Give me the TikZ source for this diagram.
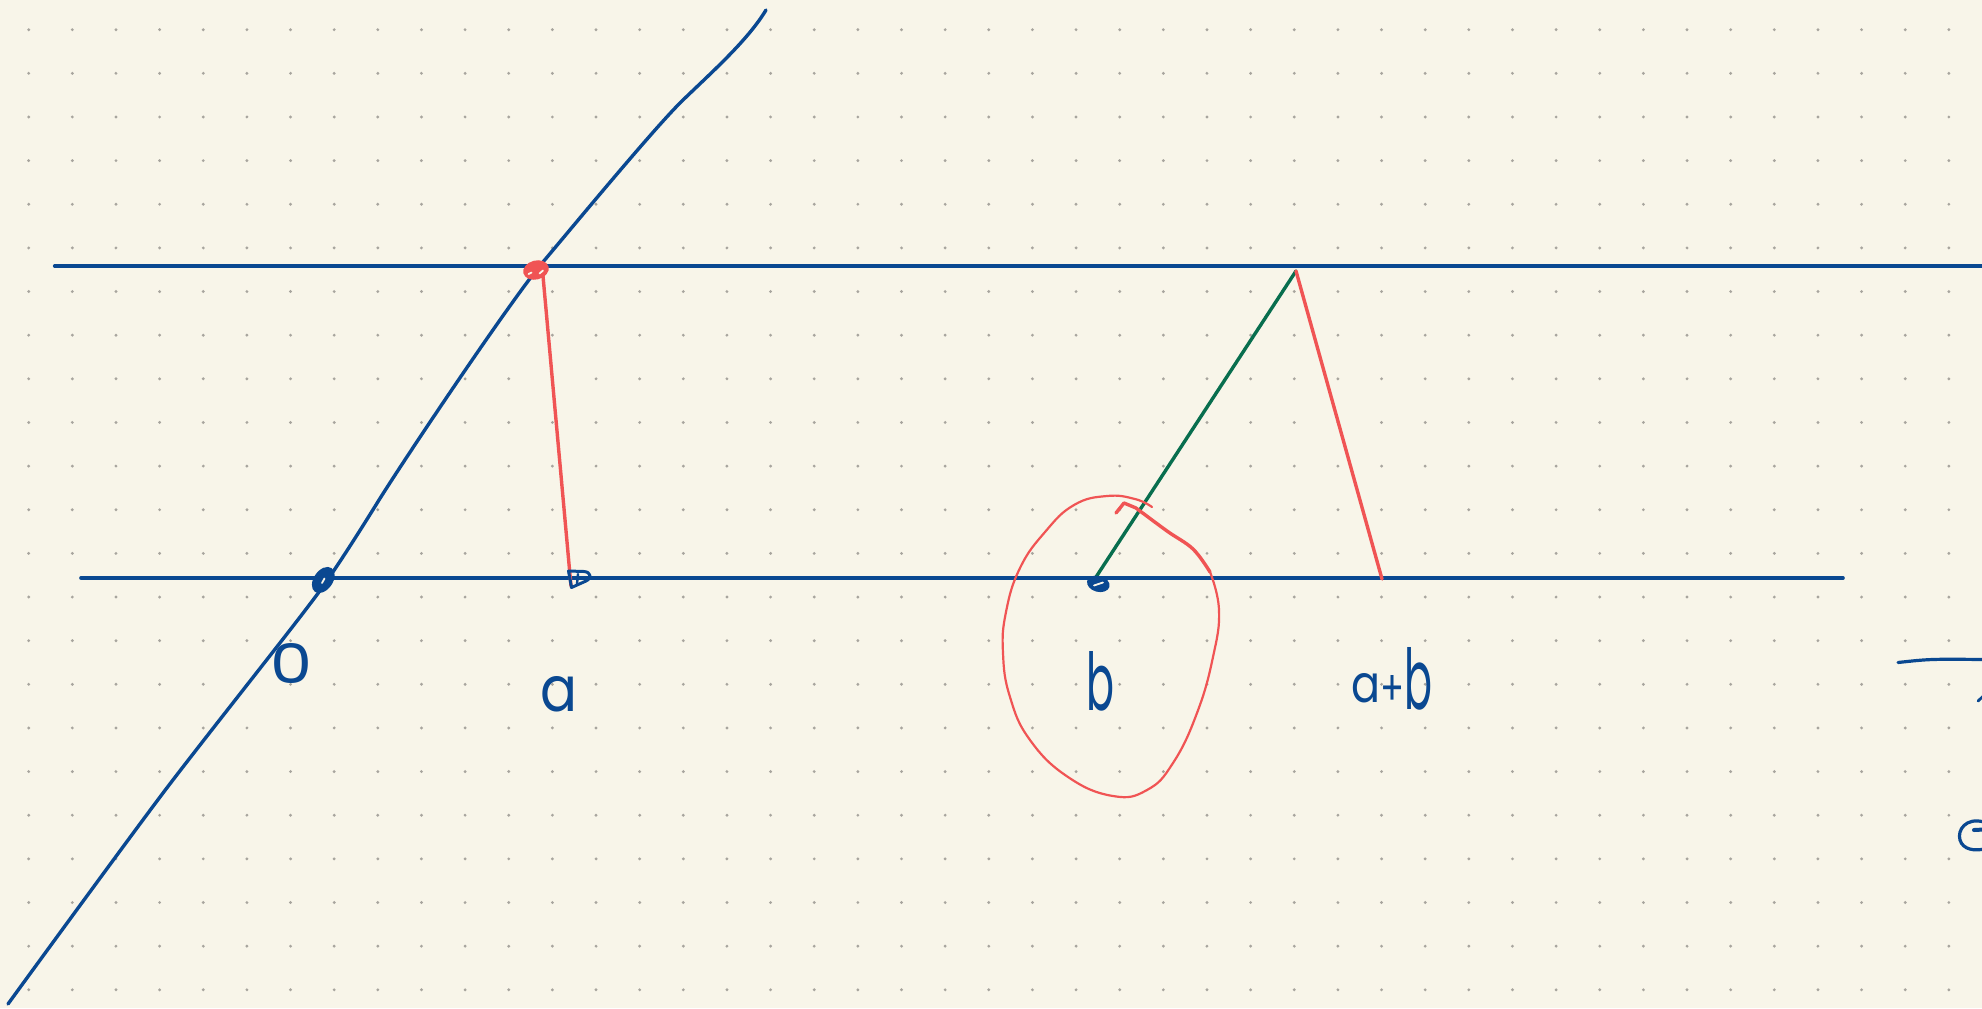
\documentclass[tikz,border=0pt]{standalone}
\usepackage{fontspec}
\setmainfont{Poppins}
\usepackage{graphicx}
\definecolor{paper}{RGB}{248,245,233}
\definecolor{dotgray}{RGB}{168,165,158}
\definecolor{penblue}{RGB}{10,72,145}
\definecolor{penred}{RGB}{240,84,84}
\definecolor{pengreen}{RGB}{8,110,78}
\begin{document}
\begin{tikzpicture}[x=0.5pt,y=-0.5pt,
  ink/.style={draw=penblue,line width=1.8pt,line cap=round,line join=round},
  redline/.style={draw=penred,line width=1.7pt,line cap=round},
  greenline/.style={draw=pengreen,line width=1.7pt,line cap=round},
  shine/.style={draw=paper,line width=0.9pt,line cap=round},
  lbl/.style={text=penblue,inner sep=0pt,outer sep=0pt}]
\fill[paper] (0,0) rectangle (1982,1008);
\useasboundingbox (0,0) rectangle (1982,1008);
% dot grid
\foreach \i in {0,...,44}{\foreach \j in {0,...,22}{
  \fill[dotgray] (28.7+43.64*\i, 29.7+43.64*\j) circle[radius=1.6];}}
% key points
\coordinate (L1w) at (54.7,266); \coordinate (L1e) at (1984,266);
\coordinate (L2w) at (81,578);   \coordinate (L2e) at (1843,578);
\coordinate (P) at (536,270);
\coordinate (Pfoot) at (543,276);
\coordinate (A) at (571,586);
\coordinate (O) at (323.3,580);
\coordinate (B) at (1096,577);
\coordinate (C) at (1296,271);
\coordinate (AB) at (1382,579);
% number lines
\draw[ink] (L1w) -- (L1e);
\draw[ink] (L2w) -- (L2e);
% slanted curve
\draw[ink,line width=1.7pt]
  (766,10) .. controls (748,40) and (712,72) .. (683,100)
  .. controls (655,127) and (570,230) .. (543,262)
  .. controls (514,296) and (411,449) .. (379,500)
  .. controls (358,534) and (330,578) .. (313,600)
  .. controls (283,640) and (196,749) .. (160,797)
  .. controls (124,845) and (40,960) .. (8,1004);
% red and green segments
\draw[redline] (Pfoot) -- (A);
\draw[greenline] (B) -- (C);
\draw[redline] (C) -- (AB);
% red loop around b
\draw[penred,line width=1.1pt,line cap=round] plot[smooth,tension=0.75] coordinates {
 (1152,507) (1135,499) (1107,496) (1074,505) (1045,532) (1020,568) (1006,612)
 (1003,653) (1010,697) (1030,740) (1068,777) (1113,796) (1147,790) (1173,763)
 (1197,713) (1213,657) (1219,610) (1210,572)};
\draw[penred,line width=1.7pt,line cap=round,line join=round] plot[smooth,tension=0.6] coordinates {
 (1210,572) (1193,549) (1167,531) (1136,508)} -- (1124,503) -- (1116,513);
% red blob at top crossing
\fill[penred,rotate around={15:(P)}] (P) ellipse[x radius=13, y radius=9.5];
\draw[shine] (528.5,274) -- (531.5,272.5);
\draw[shine] (539.5,273.5) -- (543,270.5);
% blue blob at origin
\fill[penblue,rotate around={55:(O)}] (O) ellipse[x radius=14.5, y radius=9.5];
\draw[shine] (322,583) -- (324.5,578.5);
% marker at a
\draw[penblue,line width=1.5pt,line join=round] (568.5,571) -- (584,571.5)
  .. controls (591,572) and (592,578) .. (586,581) -- (571.5,587.5) -- cycle;
\draw[penblue,line width=1.2pt,line cap=round] (578,574) -- (577,584);
% marker at b
\fill[penblue,rotate around={-15:(B)}] (1100,583) ellipse[x radius=11.5, y radius=8];
\draw[shine] (1094,585.5) -- (1103,582.5);
% labels
\node[lbl] (zero) at (291.5,663) {\resizebox{21pt}{20pt}{0}};
\node[lbl] (alab) at (559,694) {\resizebox{18.5pt}{17.5pt}{a}};
\node[lbl] (blab) at (1100,681) {\resizebox{14pt}{29.5pt}{b}};
\node[lbl,anchor=base west] (ablab) at (1351,705)
  {\raisebox{1.5pt}{\resizebox{14.5pt}{14.5pt}{a}}\resizebox{12pt}{15pt}{+}\raisebox{-2pt}{\resizebox{14pt}{31pt}{b}}};
% cut-off strokes at right edge
\draw[penblue,line width=1.6pt,line cap=round] (1898,662.5) .. controls (1930,659) .. (1984,659.5);
\draw[penblue,line width=1.4pt,line cap=round] (1978,701) -- (1984,695.5);
\draw[penblue,line width=1.6pt] (1984,822) .. controls (1966,817) and (1957,830) .. (1960,840)
  .. controls (1963,850) and (1975,851) .. (1984,849);
\draw[penblue,line width=2pt,line cap=round] (1974,830) -- (1984,829.5);
\end{tikzpicture}
\end{document}
